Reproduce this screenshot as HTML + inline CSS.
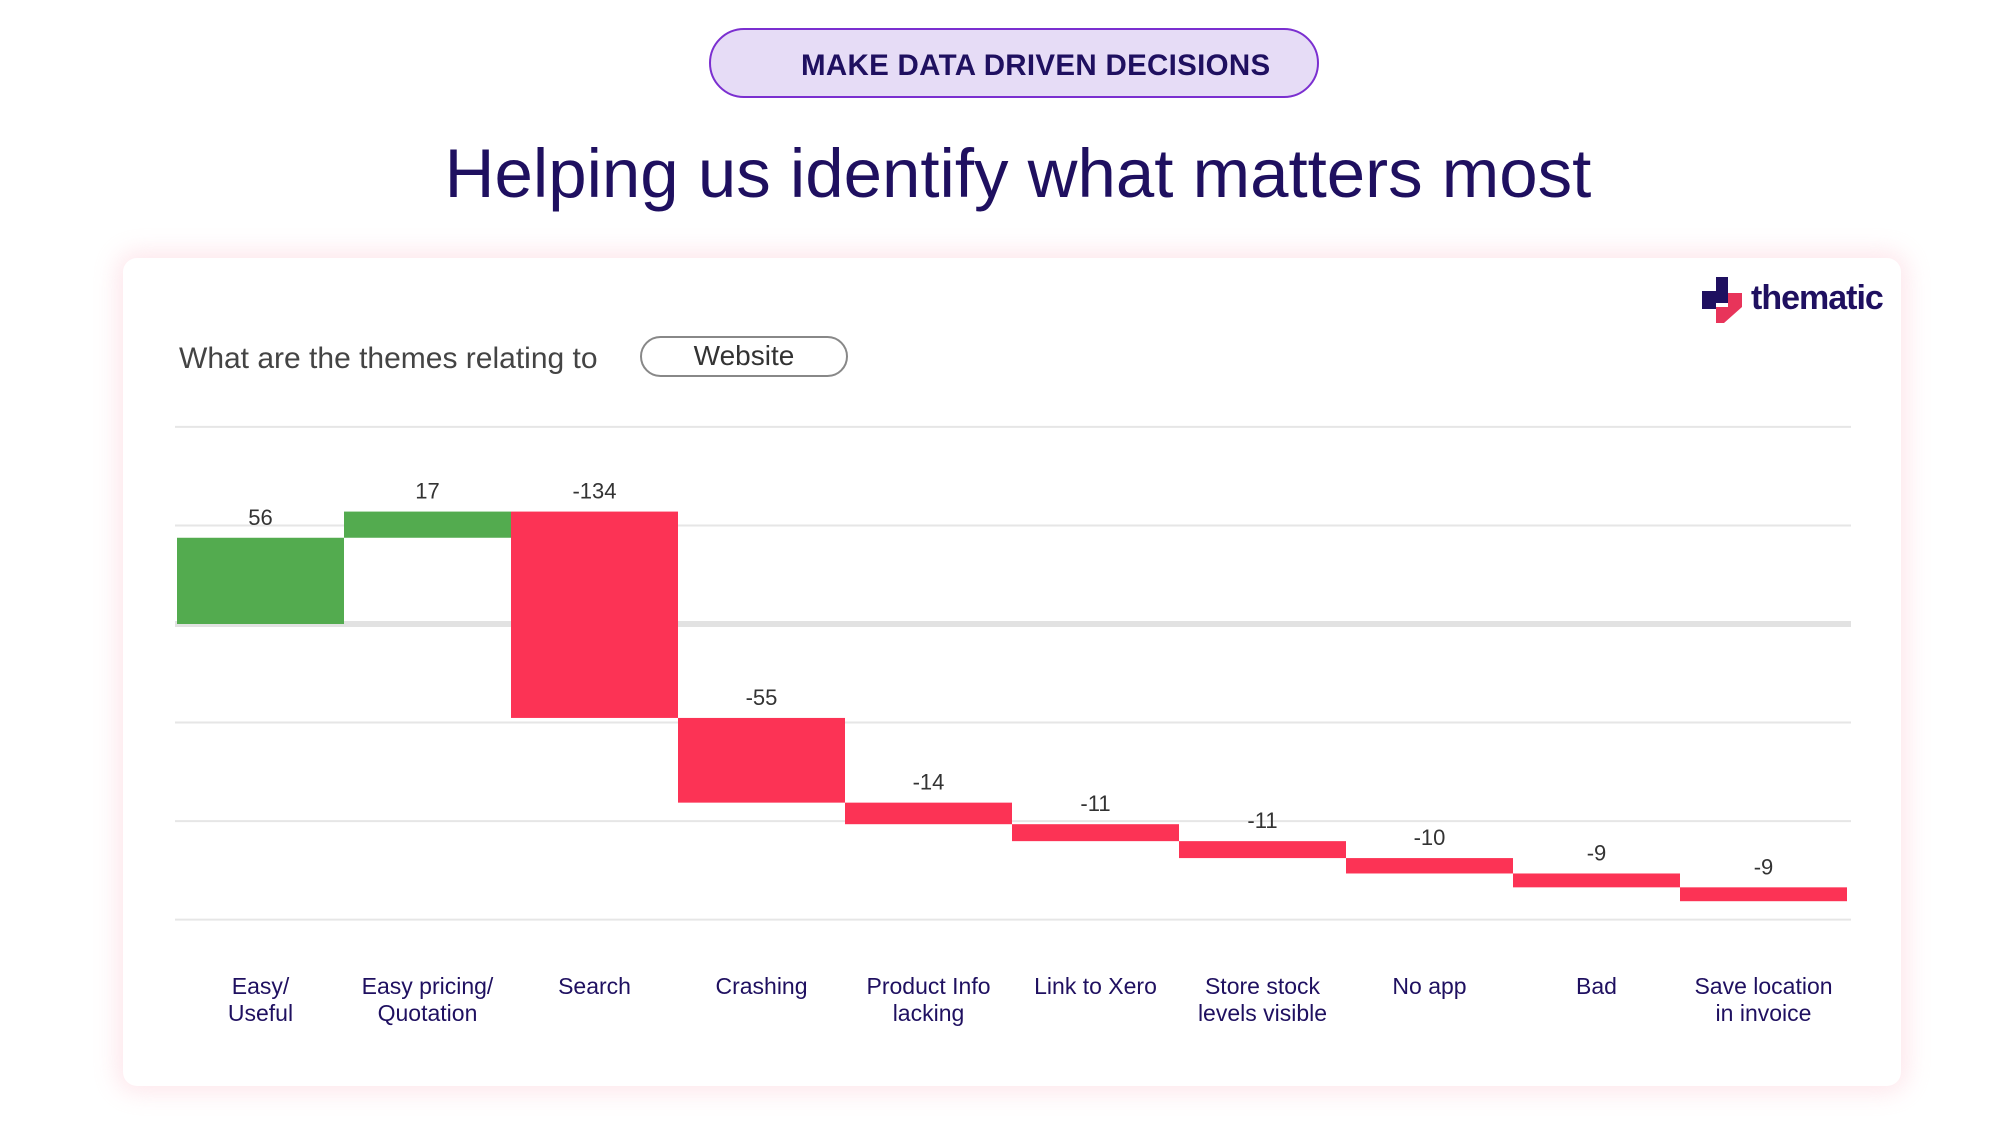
<!DOCTYPE html>
<html><head><meta charset="utf-8">
<style>
body{margin:0;width:2000px;height:1128px;background:#fff;position:relative;overflow:hidden;font-family:"Liberation Sans",sans-serif;}
.pill{position:absolute;left:709px;top:28px;width:610px;height:70px;border:2px solid #7b2fd0;border-radius:36px;background:#e6dcf6;box-sizing:border-box;}
.pill span{position:absolute;left:90px;top:19px;font-size:29.5px;font-weight:bold;color:#1f1060;letter-spacing:0.3px;}
.title{position:absolute;left:0;width:2036px;top:134px;text-align:center;font-size:69px;color:#1f1060;}
.card{position:absolute;left:123px;top:258px;width:1778px;height:828px;background:#fff;border-radius:14px;box-shadow:0 0 24px 6px rgba(252,200,210,0.45);}
.q{position:absolute;left:179px;top:342px;font-size:30px;color:#444;}
.web{position:absolute;left:640px;top:336px;width:208px;height:41px;border:2px solid #888;border-radius:22px;box-sizing:border-box;font-size:28px;color:#333;text-align:center;line-height:36px;}
.logo{position:absolute;left:1700px;top:277px;}
</style></head><body>
<div class="pill"><span>MAKE DATA DRIVEN DECISIONS</span></div>
<div class="title">Helping us identify what matters most</div>
<div class="card"></div>
<div class="logo">
<svg width="200" height="46">
<path d="M2 14h14V0h12v26H16v6H2z" fill="#1f1060"/>
<path d="M16 30h12V16h14v14l-18 16h-8z" fill="#e8345a"/>
<text x="51" y="32" font-size="34" font-weight="bold" fill="#1f1060" font-family="Liberation Sans, sans-serif" letter-spacing="-1">thematic</text>
</svg></div>
<div class="q">What are the themes relating to</div>
<div class="web">Website</div>
<svg id="chart" width="2000" height="1128" style="position:absolute;left:0;top:0"></svg>
<script>
const categories=[["Easy/","Useful"],["Easy pricing/","Quotation"],["Search"],["Crashing"],["Product Info","lacking"],["Link to Xero"],["Store stock","levels visible"],["No app"],["Bad"],["Save location","in invoice"]];
const values=[56,17,-134,-55,-14,-11,-11,-10,-9,-9];
const gridValues=[128,64,0,-64,-128,-192];
const NS="http://www.w3.org/2000/svg";
const svg=document.getElementById('chart');
const x0=177,bw=167,zeroY=624,scale=1.54;
function y(v){return zeroY-v*scale;}
function xPos(i){return x0+i*bw;}
function el(t,a){const e=document.createElementNS(NS,t);for(const k in a)e.setAttribute(k,a[k]);svg.appendChild(e);return e;}
gridValues.forEach(g=>{
 const l=el('line',{x1:175,x2:1851,y1:y(g),y2:y(g),stroke:g===0?'#e2e2e2':'#e6e6e6','stroke-width':g===0?6:2});
 
 
});
let cum=0;
values.forEach((v,i)=>{
 const a=cum,b=cum+v;cum=b;
 const top=y(Math.max(a,b)),bot=y(Math.min(a,b));
 const r=el('rect',{x:xPos(i),y:top,width:bw,height:bot-top,fill:v>=0?'#53ab4f':'#fc3355'});
 
 
 const t=el('text',{x:xPos(i)+bw/2,y:top-13,'text-anchor':'middle','font-size':22,fill:'#333','font-family':'Liberation Sans, sans-serif'});
 t.textContent=v;
 
 
 categories[i].forEach((ln,j)=>{
  const c=el('text',{x:xPos(i)+bw/2,y:994+j*27,'text-anchor':'middle','font-size':23,fill:'#1f1060','font-family':'Liberation Sans, sans-serif'});
  c.textContent=ln;
  
  
 });
});
</script>
</body></html>
